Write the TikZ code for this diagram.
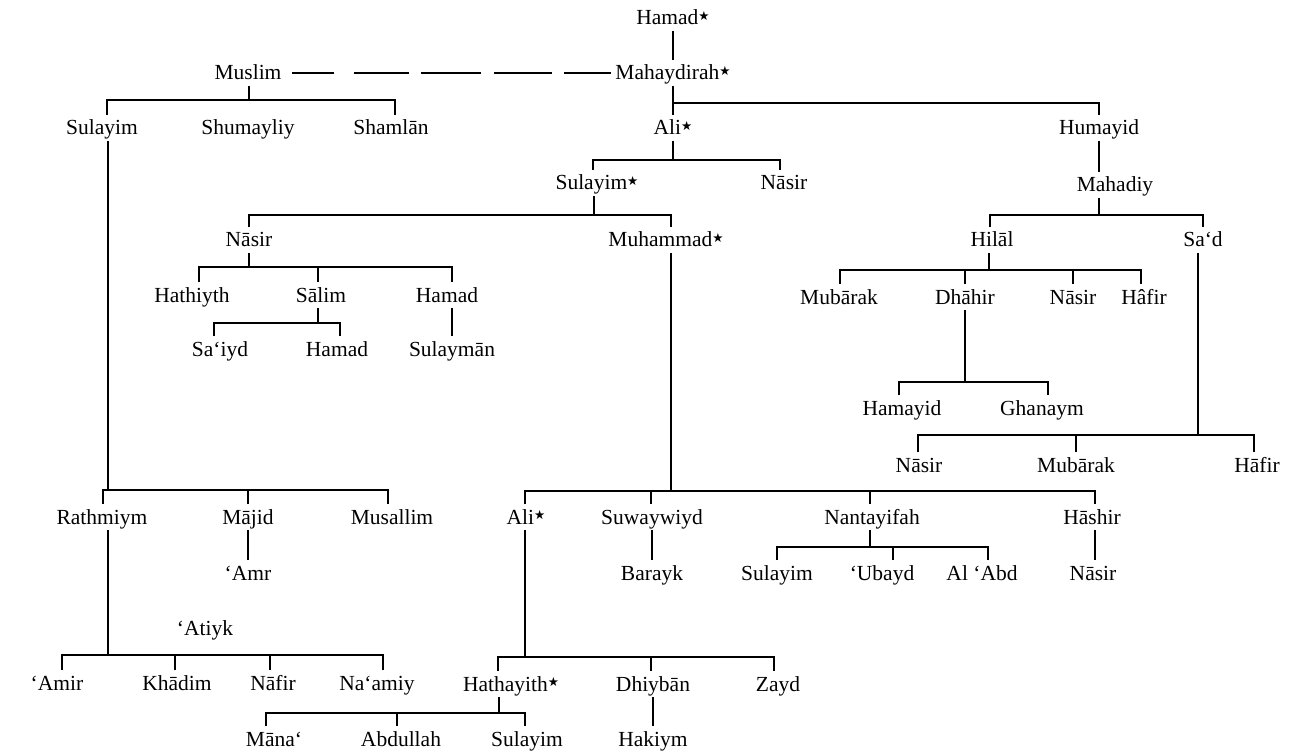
\documentclass[tikz,border=0pt]{standalone}
\usepackage{fontspec}
\setmainfont{Liberation Serif}
\newfontfamily\djvfont{DejaVu Sans}
\newcommand\starmark{\raisebox{4.5pt}{\fontsize{12.5}{12.5}\selectfont\djvfont ★}}
\begin{document}
\begin{tikzpicture}[x=1pt,y=-1pt,
  n/.style={inner sep=0pt, outer sep=0pt, text height=20pt, text depth=6pt, font=\fontsize{21.5}{24}\selectfont},
  ln/.style={line width=1.3pt},
  dsh/.style={line width=1.3pt, dash pattern=on 42pt off 20pt on 55pt off 12pt on 60pt off 13pt on 58pt off 12pt on 47pt off 100pt}]
\useasboundingbox (0,0) rectangle (1306,754);
% nodes
\node[n] (hamad) at (673,18) {Hamad\starmark};
\node[n] (mahay) at (673,73) {Mahaydirah\starmark};
\node[n] (muslim) at (248,73) {Muslim};
\node[n] (sulayimA) at (102,128) {Sulayim};
\node[n] (shumayliy) at (248,128) {Shumayliy};
\node[n] (shamlan) at (391,128) {Shamlān};
\node[n] (ali1) at (673,128) {Ali\starmark};
\node[n] (humayid) at (1099,128) {Humayid};
\node[n] (sulayim1) at (597,183) {Sulayim\starmark};
\node[n] (nasir1) at (784,183) {Nāsir};
\node[n] (nasir2) at (249,240) {Nāsir};
\node[n] (muhammad) at (666,240) {Muhammad\starmark};
\node[n] (mahadiy) at (1115,185) {Mahadiy};
\node[n] (hilal) at (992,240) {Hilāl};
\node[n] (sad) at (1203,240) {Sa‘d};
\node[n] (hathiyth) at (192,295) {Hathiyth};
\node[n] (salim) at (321,295) {Sālim};
\node[n] (hamad2) at (447,295) {Hamad};
\node[n] (sayd) at (220,349) {Sa‘iyd};
\node[n] (hamad3) at (337,349) {Hamad};
\node[n] (sulayman) at (452,349) {Sulaymān};
\node[n] (mubarak1) at (839,297) {Mubārak};
\node[n] (dhahir) at (965,297) {Dhāhir};
\node[n] (nasir3) at (1073,297) {Nāsir};
\node[n] (hafir1) at (1144,297) {Hâfir};
\node[n] (hamayid) at (902,408) {Hamayid};
\node[n] (ghanaym) at (1042,408) {Ghanaym};
\node[n] (nasir4) at (919,465) {Nāsir};
\node[n] (mubarak2) at (1076,465) {Mubārak};
\node[n] (hafir2) at (1257,465) {Hāfir};
\node[n] (rathmiym) at (102,517) {Rathmiym};
\node[n] (majid) at (248,517) {Mājid};
\node[n] (musallim) at (392,517) {Musallim};
\node[n] (amr) at (248,573) {‘Amr};
\node[n] (atiyk) at (205,628) {‘Atiyk};
\node[n] (amir) at (57,683) {‘Amir};
\node[n] (khadim) at (177,683) {Khādim};
\node[n] (nafir) at (273,683) {Nāfir};
\node[n] (naamiy) at (377,683) {Na‘amiy};
\node[n] (ali2) at (526,517) {Ali\starmark};
\node[n] (suway) at (652,517) {Suwaywiyd};
\node[n] (nanta) at (872,517) {Nantayifah};
\node[n] (hashir) at (1092,517) {Hāshir};
\node[n] (barayk) at (652,573) {Barayk};
\node[n] (sulayimB) at (777,573) {Sulayim};
\node[n] (ubayd) at (882,573) {‘Ubayd};
\node[n] (alabd) at (982,573) {Al ‘Abd};
\node[n] (nasir5) at (1093,573) {Nāsir};
\node[n] (hathayith) at (511,684) {Hathayith\starmark};
\node[n] (dhiyban) at (653,684) {Dhiybān};
\node[n] (zayd) at (778,684) {Zayd};
\node[n] (hakiym) at (653,739) {Hakiym};
\node[n] (mana) at (274,739) {Māna‘};
\node[n] (abdullah) at (401,739) {Abdullah};
\node[n] (sulayimC) at (527,739) {Sulayim};
% connectors
\draw[ln] (hamad.south) -- (mahay.north);
\draw[dsh] ([xshift=11]muslim.east) -- ([xshift=-1]mahay.west);
% Muslim
\draw[ln] ([xshift=1]muslim.south) -- ++(0,14);
\draw[ln] ([xshift=5]sulayimA.north) -- ++(0,-15) -| ([xshift=4]shamlan.north);
\draw[ln] ([xshift=6]sulayimA.south) -- ++(0,349);
\draw[ln] ([xshift=1]rathmiym.north) -- ++(0,-14) -| ([xshift=-4]musallim.north);
\draw[ln] (majid.north) -- ++(0,-14);
\draw[ln] (majid.south) -- (amr.north);
\draw[ln] ([xshift=6]rathmiym.south) -- ++(0,125);
\draw[ln] ([xshift=5]amir.north) -- ++(0,-15) -| ([xshift=6]naamiy.north);
\draw[ln] ([xshift=-2]khadim.north) -- ++(0,-15);
\draw[ln] ([xshift=-3]nafir.north) -- ++(0,-15);
% Mahaydirah
\draw[ln] (mahay.south) -- (ali1.north);
\draw[ln] (humayid.north) -- ++(0,-12) -| (mahay.south);
\draw[ln] (ali1.south) -- ++(0,19);
\draw[ln] ([xshift=-4]sulayim1.north) -- ++(0,-10) -| ([xshift=-4]nasir1.north);
\draw[ln] ([xshift=-3]sulayim1.south) -- ++(0,19);
\draw[ln] (nasir2.north) -- ++(0,-12) -| ([xshift=5]muhammad.north);
% Nasir (left)
\draw[ln] (nasir2.south) -- ++(0,14);
\draw[ln] ([xshift=7]hathiyth.north) -- ++(0,-15) -| ([xshift=5]hamad2.north);
\draw[ln] ([xshift=-3]salim.north) -- ++(0,-15);
\draw[ln] ([xshift=-3]salim.south) -- ++(0,15);
\draw[ln] ([xshift=-6]sayd.north) -- ++(0,-13) -| ([xshift=3]hamad3.north);
\draw[ln] ([xshift=5]hamad2.south) -- (sulayman.north);
% Muhammad
\draw[ln] ([xshift=5]muhammad.south) -- ++(0,238);
\draw[ln] ([xshift=-1]ali2.north) -- ++(0,-13) -| ([xshift=3]hashir.north);
\draw[ln] ([xshift=-1]suway.north) -- ++(0,-13);
\draw[ln] ([xshift=-2]nanta.north) -- ++(0,-13);
\draw[ln] (suway.south) -- (barayk.north);
\draw[ln] ([xshift=-2]nanta.south) -- ++(0,17);
\draw[ln] (sulayimB.north) -- ++(0,-13) -| ([xshift=6]alabd.north);
\draw[ln] ([xshift=11]ubayd.north) -- ++(0,-13);
\draw[ln] ([xshift=3]hashir.south) -- ([xshift=2]nasir5.north);
\draw[ln] ([xshift=-1]ali2.south) -- ++(0,127);
\draw[ln] ([xshift=-13]hathayith.north) -- ++(0,-14) -| ([xshift=-4]zayd.north);
\draw[ln] ([xshift=-2]dhiyban.north) -- ++(0,-14);
\draw[ln] (dhiyban.south) -- (hakiym.north);
\draw[ln] ([xshift=-12]hathayith.south) -- ++(0,16);
\draw[ln] ([xshift=-8]mana.north) -- ++(0,-13) -| ([xshift=-2]sulayimC.north);
\draw[ln] ([xshift=-4]abdullah.north) -- ++(0,-13);
% Humayid
\draw[ln] (humayid.south) -- ([xshift=-16]mahadiy.north);
\draw[ln] ([xshift=-16]mahadiy.south) -- ++(0,17);
\draw[ln] ([xshift=-2]hilal.north) -- ++(0,-12) -| (sad.north);
\draw[ln] ([xshift=-3]hilal.south) -- ++(0,17);
\draw[ln] ([xshift=1]mubarak1.north) -- ++(0,-14) -| ([xshift=-3]hafir1.north);
\draw[ln] (dhahir.north) -- ++(0,-14);
\draw[ln] (nasir3.north) -- ++(0,-14);
\draw[ln] (dhahir.south) -- ++(0,72);
\draw[ln] ([xshift=-3]hamayid.north) -- ++(0,-13) -| ([xshift=6]ghanaym.north);
\draw[ln] ([xshift=-5]sad.south) -- ++(0,182);
\draw[ln] ([xshift=-1]nasir4.north) -- ++(0,-17) -| ([xshift=-3]hafir2.north);
\draw[ln] (mubarak2.north) -- ++(0,-17);
\end{tikzpicture}
\end{document}
